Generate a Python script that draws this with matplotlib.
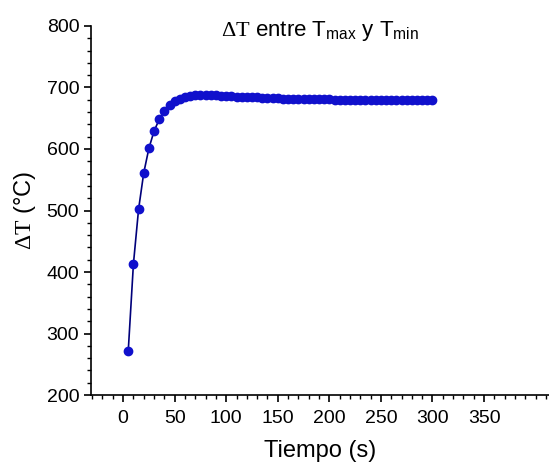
import numpy as np
import matplotlib.pyplot as plt
from matplotlib.ticker import MultipleLocator

plt.rcParams["font.family"] = ["Liberation Sans", "DejaVu Sans"]
plt.rcParams["mathtext.fontset"] = "custom"
plt.rcParams["mathtext.rm"] = "Liberation Serif"
plt.rcParams["mathtext.sf"] = "Liberation Sans"
plt.rcParams["mathtext.it"] = "Liberation Serif:italic"

tiempo = np.arange(5, 301, 5)
delta_t = [
    272, 413, 502, 561, 601, 629, 648, 662, 671, 678,
    682, 685, 686, 687, 687, 687, 687, 687, 686, 686,
    686, 685, 685, 684, 684, 684, 683, 683, 683, 683,
    682, 682, 682, 682, 681, 681, 681, 681, 681, 681,
    680, 680, 680, 680, 680, 680, 680, 680, 680, 680,
    679, 679, 679, 679, 679, 679, 679, 679, 679, 679,
]

fig = plt.figure(figsize=(5.49, 4.72), dpi=100)
ax = fig.add_axes([0.166, 0.163, 0.834, 0.782])

ax.plot(tiempo, delta_t, color="#00007a", linewidth=1.2,
        marker="o", markersize=6, markerfacecolor="#1010cc",
        markeredgecolor="#1010cc")

ax.set_xlim(-31, 413)
ax.set_ylim(200, 800)
ax.xaxis.set_major_locator(MultipleLocator(50))
ax.xaxis.set_minor_locator(MultipleLocator(10))
ax.yaxis.set_major_locator(MultipleLocator(100))
ax.yaxis.set_minor_locator(MultipleLocator(20))
ax.set_xticks(np.arange(0, 351, 50))

for s in ["top", "right"]:
    ax.spines[s].set_visible(False)
for s in ["left", "bottom"]:
    ax.spines[s].set_linewidth(1.2)

ax.tick_params(which="major", direction="out", length=5, width=1.2,
               labelsize=14)
ax.tick_params(axis="x", which="major", pad=6)
ax.tick_params(which="minor", direction="out", length=3, width=1)

ax.set_xlabel("Tiempo (s)", fontsize=17, labelpad=9)
ax.set_ylabel(r"$\Delta\mathrm{T}$ (°C)", fontsize=17, labelpad=6)

fig.text(320 / 549, 1 - 36 / 472,
         r"$\Delta\mathrm{T}$ entre T$_{\mathsf{max}}$ y T$_{\mathsf{min}}$",
         ha="center", va="baseline", fontsize=16)

fig.savefig("out.png", dpi=100)
